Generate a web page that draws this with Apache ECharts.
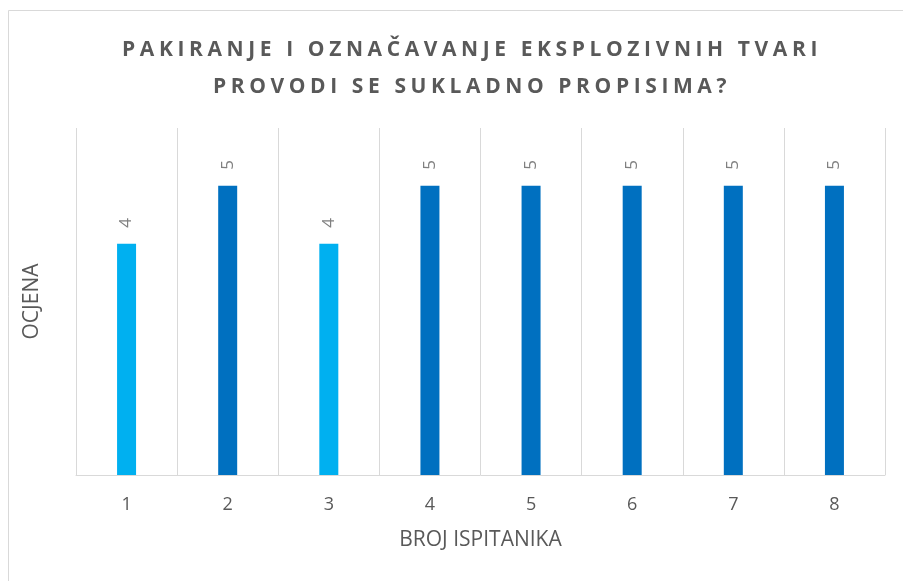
<!DOCTYPE html>
<html>
<head>
<meta charset="utf-8">
<script src="https://cdn.jsdelivr.net/npm/echarts@6/dist/echarts.min.js"></script>
<style>
  html, body { margin: 0; padding: 0; background: #fff; }
  #chart { width: 903px; height: 581px; }
</style>
</head>
<body>
<div id="chart"></div>
<script>
// podaci
var categories = ["1", "2", "3", "4", "5", "6", "7", "8"];
var ocjene = [4, 5, 4, 5, 5, 5, 5, 5];

// razmak slova za naslov (samo bold tekst), canvas letterSpacing
var origFillText = CanvasRenderingContext2D.prototype.fillText;
CanvasRenderingContext2D.prototype.fillText = function () {
  if (this.font && this.font.indexOf("bold") >= 0) {
    var ls = this.letterSpacing;
    this.letterSpacing = "4.6px";
    origFillText.apply(this, arguments);
    this.letterSpacing = ls;
  } else {
    origFillText.apply(this, arguments);
  }
};

var chart = echarts.init(document.getElementById("chart"));

var option = {
  backgroundColor: "#fff",
  textStyle: { fontFamily: "Open Sans" },
  graphic: [
    {
      // okvir grafikona (odrezan desno i dolje)
      type: "rect",
      shape: { x: 8.5, y: 10.5, width: 1000, height: 1000 },
      style: { fill: "none", stroke: "#d9d9d9", lineWidth: 1 },
      silent: true,
    },
  ],
  title: {
    text: "PAKIRANJE I OZNAČAVANJE EKSPLOZIVNIH TVARI\nPROVODI SE SUKLADNO PROPISIMA?",
    left: 467,
    textAlign: "center",
    top: 27,
    textStyle: {
      fontFamily: "Open Sans",
      fontSize: 21,
      fontWeight: "bold",
      color: "#595959",
      lineHeight: 37,
    },
  },
  grid: {
    left: 76,
    right: 18,
    top: 128,
    bottom: 106,
  },
  xAxis: {
    type: "category",
    data: categories,
    boundaryGap: true,
    name: "BROJ ISPITANIKA",
    nameLocation: "middle",
    nameGap: 55,
    nameTextStyle: { fontSize: 21, color: "#595959" },
    axisLine: { show: true, lineStyle: { color: "#d9d9d9", width: 1 } },
    axisTick: { show: false },
    axisLabel: { fontSize: 18, color: "#595959", margin: 21 },
    splitLine: { show: true, lineStyle: { color: "#d9d9d9", width: 1 } },
  },
  yAxis: {
    type: "value",
    min: 0,
    max: 6,
    interval: 1,
    name: "OCJENA",
    nameLocation: "middle",
    nameGap: 33,
    nameTextStyle: { fontSize: 21, color: "#595959" },
    axisLine: { show: false },
    axisTick: { show: false },
    axisLabel: { show: false },
    splitLine: { show: false },
  },
  series: [
    {
      name: "Ocjena",
      type: "bar",
      data: ocjene,
      barWidth: 19,
      itemStyle: {
        color: function (p) {
          return p.value === 4 ? "#00B0F0" : "#0070C0";
        },
      },
      label: {
        show: true,
        position: "top",
        distance: 16,
        rotate: 90,
        align: "left",
        verticalAlign: "middle",
        fontSize: 17,
        color: "#808080",
      },
    },
  ],
};

chart.setOption(option);
</script>
</body>
</html>
